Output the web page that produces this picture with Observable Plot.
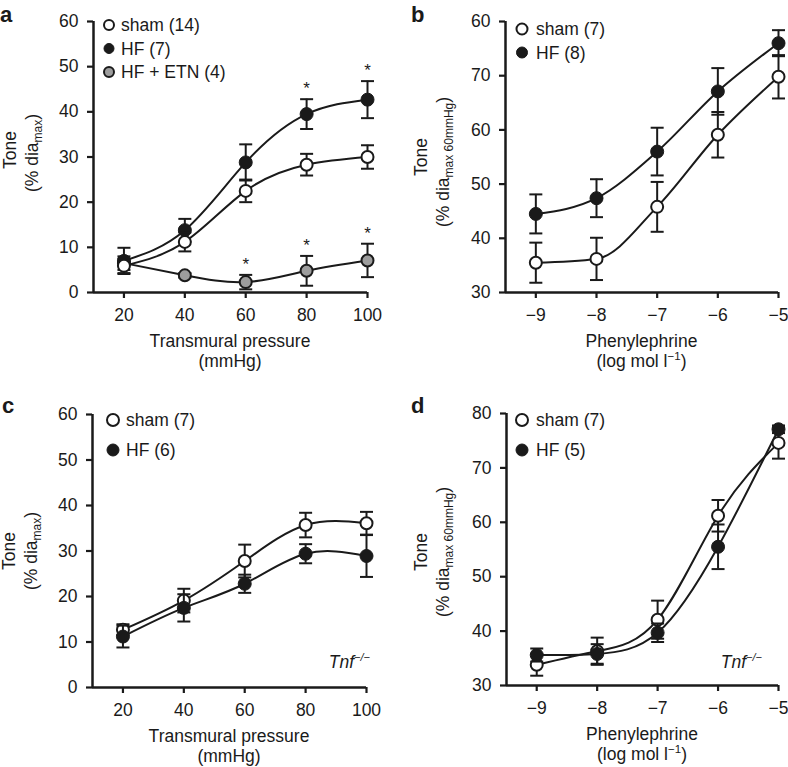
<!DOCTYPE html>
<html><head><meta charset="utf-8">
<script src="https://cdn.jsdelivr.net/npm/d3@7"></script>
<script src="https://cdn.jsdelivr.net/npm/@observablehq/plot@0.6"></script>
<style>
body{margin:0;background:#fff;}
#fig{position:relative;width:788px;height:767px;font-family:"Liberation Sans",Arial,Helvetica,sans-serif;color:#1a1a1a;}
.panel{position:absolute;}
.letter{position:absolute;font-weight:bold;font-size:22px;line-height:1;}
</style></head><body><div id="fig"></div>
<script>
// ---------- data ----------
const pressure = [20, 40, 60, 80, 100];
const logPE = [-9, -8, -7, -6, -5];

// panel a
const shamA = [5.9, 11.2, 22.5, 28.3, 30.0];
const shamAErr = [1.6, 2.1, 2.5, 2.4, 2.6];
const hfA = [7.0, 13.8, 28.8, 39.5, 42.7];
const hfAErr = [2.9, 2.5, 4.0, 3.3, 4.1];
const etnA = [6.5, 3.8, 2.3, 4.8, 7.1];
const etnAErr = [1.5, 0.5, 1.6, 3.3, 3.7];
const starsHFA = [80, 100];
const starsETNA = [60, 80, 100];

// panel b
const shamB = [35.5, 36.2, 45.8, 59.1, 69.8];
const shamBErr = [3.7, 3.9, 4.6, 4.2, 4.0];
const hfB = [44.5, 47.4, 56.0, 67.1, 76.0];
const hfBErr = [3.6, 3.5, 4.4, 4.3, 2.4];

// panel c
const shamC = [12.7, 19.1, 27.8, 35.7, 36.1];
const shamCErr = [1.2, 2.6, 3.6, 2.7, 2.5];
const hfC = [11.2, 17.5, 22.8, 29.4, 28.9];
const hfCErr = [2.4, 3.0, 2.0, 2.1, 4.6];

// panel d
const shamD = [33.8, 36.3, 42.1, 61.2, 74.6];
const shamDErr = [2.0, 2.5, 3.5, 2.9, 2.9];
const hfD = [35.6, 35.8, 39.7, 55.5, 77.1];
const hfDErr = [1.2, 1.8, 1.7, 4.1, 0.7];

// ticks
const pressureTicks = [20, 40, 60, 80, 100];
const pressureTickLabels = ["20", "40", "60", "80", "100"];
const peTicks = [-9, -8, -7, -6, -5];
const peTickLabels = ["\u22129", "\u22128", "\u22127", "\u22126", "\u22125"];
const toneTicks60 = [0, 10, 20, 30, 40, 50, 60];
const toneTickLabels60 = ["0", "10", "20", "30", "40", "50", "60"];
const toneTicks80 = [30, 40, 50, 60, 70, 80];
const toneTickLabelsB = ["30", "40", "50", "60", "70", "60"];
const toneTickLabelsD = ["30", "40", "50", "60", "70", "80"];

// legends
const legendA = ["sham (14)", "HF (7)", "HF + ETN (4)"];
const legendB = ["sham (7)", "HF (8)"];
const legendC = ["sham (7)", "HF (6)"];
const legendD = ["sham (7)", "HF (5)"];

// ---------- styles ----------
const INK = "#1a1a1a";
const FS = 17.5;
const FONT = "'Liberation Sans', Arial, Helvetica, sans-serif";
const openS = {fill: "#ffffff", stroke: INK, r: 6, sw: 2};
const filledS = {fill: INK, stroke: INK, r: 6.5, sw: 1};
const grayS = {fill: "#9d9d9d", stroke: INK, r: 6, sw: 2};
const capSymbol = {draw(ctx) { ctx.moveTo(-6.5, 0); ctx.lineTo(6.5, 0); }};

function rows(xs, means, errs) {
  return xs.map((x, i) => ({x, y: means[i], lo: means[i] - errs[i], hi: means[i] + errs[i]}));
}

function panel(cfg) {
  const fig = document.getElementById("fig");
  const div = document.createElement("div");
  div.className = "panel";
  div.style.left = cfg.left + "px";
  div.style.top = cfg.top + "px";
  fig.appendChild(div);

  const marks = [];
  marks.push(Plot.ruleX([cfg.xDomain[0]], {stroke: INK, strokeWidth: 2.5}));
  marks.push(Plot.ruleY([cfg.yDomain[0]], {stroke: INK, strokeWidth: 2.5}));
  marks.push(Plot.axisX({ticks: cfg.xTicks, tickFormat: d => cfg.xTickLabels[cfg.xTicks.indexOf(d)],
    tickSize: 6, tickPadding: 10, strokeWidth: 2.2, label: null, fill: INK, stroke: INK}));
  marks.push(Plot.axisY({ticks: cfg.yTicks, tickFormat: d => cfg.yTickLabels[cfg.yTicks.indexOf(d)],
    tickSize: 6, tickPadding: 9, strokeWidth: 2.2, label: null, fill: INK, stroke: INK}));
  const data = cfg.series.map(s => ({...s, rows: rows(cfg.xs, s.means, s.errs)}));
  for (const s of data) {
    marks.push(Plot.line(s.rows, {x: "x", y: "y", curve: cfg.curve, stroke: INK, strokeWidth: 2}));
  }
  for (const s of data) {
    marks.push(Plot.ruleX(s.rows, {x: "x", y1: "lo", y2: "hi", stroke: INK, strokeWidth: 2}));
    marks.push(Plot.dot(s.rows, {x: "x", y: "hi", symbol: capSymbol, fill: "none", stroke: INK, strokeWidth: 2}));
    marks.push(Plot.dot(s.rows, {x: "x", y: "lo", symbol: capSymbol, fill: "none", stroke: INK, strokeWidth: 2}));
    marks.push(Plot.dot(s.rows, {x: "x", y: "y", r: s.style.r, fill: s.style.fill, stroke: s.style.stroke, strokeWidth: s.style.sw}));
    if (s.stars) {
      const sr = s.rows.filter(d => s.stars.includes(d.x));
      marks.push(Plot.text(sr, {x: "x", y: "hi", text: () => "*", lineAnchor: "bottom", dy: -5, fontSize: 17, fill: INK}));
    }
  }

  const svg = Plot.plot({
    width: cfg.width, height: cfg.height,
    marginLeft: cfg.m[0], marginRight: cfg.m[1], marginTop: cfg.m[2], marginBottom: cfg.m[3],
    x: {domain: cfg.xDomain},
    y: {domain: cfg.yDomain},
    style: {fontSize: FS + "px", fontFamily: FONT, color: INK, background: "transparent", overflow: "visible"},
    marks
  });
  div.appendChild(svg);

  const g = d3.select(svg);
  const fx0 = cfg.m[0], fx1 = cfg.width - cfg.m[1];
  const fy1 = cfg.height - cfg.m[3];
  const cx = (fx0 + fx1) / 2;

  // x label
  const xl = g.append("text").attr("text-anchor", "middle").attr("fill", INK).attr("font-size", FS);
  xl.append("tspan").attr("x", cx).attr("y", fy1 + 54.5).text(cfg.xLabel1);
  const l2 = xl.append("tspan").attr("x", cx).attr("y", fy1 + 74.5);
  for (const p of cfg.xLabel2) {
    const t = l2.append("tspan").text(p.t);
    if (p.sup) t.attr("font-size", 11.5).attr("dy", -7);
    if (p.back) t.attr("dy", 7);
  }

  // y label
  g.append("text").attr("transform", `translate(${cfg.yl.x1},${cfg.yl.y1}) rotate(-90)`)
    .attr("text-anchor", "middle").attr("dy", "0.35em").attr("fill", INK).attr("font-size", FS).text("Tone");
  const y2 = g.append("text").attr("transform", `translate(${cfg.yl.x2},${cfg.yl.y2}) rotate(-90)`)
    .attr("text-anchor", "middle").attr("dy", "0.35em").attr("fill", INK).attr("font-size", FS);
  y2.append("tspan").text("(% dia");
  y2.append("tspan").attr("font-size", 12).attr("dy", 4).text(cfg.ySub);
  y2.append("tspan").attr("dy", -4).text(")");

  // legend
  cfg.legend.forEach((label, i) => {
    const st = cfg.legendStyles[i];
    const ly = cfg.lg.y0 + i * cfg.lg.dy;
    g.append("circle").attr("cx", cfg.lg.cx).attr("cy", ly).attr("r", cfg.lg.r)
      .attr("fill", st.fill).attr("stroke", st.stroke).attr("stroke-width", st.sw === 1 ? 1 : 2);
    g.append("text").attr("x", cfg.lg.tx).attr("y", ly).attr("dy", "0.35em").attr("fill", INK)
      .attr("text-anchor", "start").attr("font-size", FS).text(label);
  });

  // Tnf annotation
  if (cfg.tnf) {
    const t = g.append("text").attr("x", cfg.tnf.x).attr("y", cfg.tnf.y).attr("text-anchor", "end")
      .attr("fill", INK).attr("font-size", FS).attr("font-style", "italic");
    t.append("tspan").text("Tnf");
    t.append("tspan").attr("font-size", 11).attr("dy", -7).text("\u2212/\u2212");
  }

  // panel letter
  const L = document.createElement("div");
  L.className = "letter";
  L.style.left = (cfg.left + cfg.letter.x) + "px";
  L.style.top = (cfg.top + cfg.letter.y) + "px";
  L.textContent = cfg.letter.t;
  fig.appendChild(L);
}

panel({
  left: 0, top: 0, width: 394, height: 370, m: [93, 27, 21, 78], curve: "natural",
  xDomain: [10, 100], yDomain: [0, 60], xs: pressure,
  xTicks: pressureTicks, xTickLabels: pressureTickLabels,
  yTicks: toneTicks60, yTickLabels: toneTickLabels60,
  series: [
    {means: etnA, errs: etnAErr, style: grayS, stars: starsETNA},
    {means: hfA, errs: hfAErr, style: filledS, stars: starsHFA},
    {means: shamA, errs: shamAErr, style: openS}
  ],
  xLabel1: "Transmural pressure", xLabel2: [{t: "(mmHg)"}],
  yl: {x1: 10, y1: 150, x2: 31.5, y2: 153}, ySub: "max",
  legend: legendA, legendStyles: [openS, filledS, grayS],
  lg: {cx: 109, tx: 121, y0: 25, dy: 23.5, r: 5},
  letter: {t: "a", x: 0, y: 4}
});

panel({
  left: 394, top: 0, width: 394, height: 370, m: [111, 10, 21, 78], curve: "monotone-x",
  xDomain: [-9.5, -5], yDomain: [30, 80], xs: logPE,
  xTicks: peTicks, xTickLabels: peTickLabels,
  yTicks: toneTicks80, yTickLabels: toneTickLabelsB,
  series: [
    {means: shamB, errs: shamBErr, style: openS},
    {means: hfB, errs: hfBErr, style: filledS}
  ],
  xLabel1: "Phenylephrine", xLabel2: [{t: "(log mol l"}, {t: "\u22121", sup: true}, {t: ")", back: true}],
  yl: {x1: 27, y1: 157, x2: 48.5, y2: 162}, ySub: "max 60mmHg",
  legend: legendB, legendStyles: [openS, filledS],
  lg: {cx: 128, tx: 142, y0: 29, dy: 23.5, r: 5.5},
  letter: {t: "b", x: 17, y: 4}
});

panel({
  left: 0, top: 370, width: 394, height: 397, m: [92, 28, 44, 80], curve: "natural",
  xDomain: [10, 100], yDomain: [0, 60], xs: pressure,
  xTicks: pressureTicks, xTickLabels: pressureTickLabels,
  yTicks: toneTicks60, yTickLabels: toneTickLabels60,
  series: [
    {means: shamC, errs: shamCErr, style: openS},
    {means: hfC, errs: hfCErr, style: filledS}
  ],
  xLabel1: "Transmural pressure", xLabel2: [{t: "(mmHg)"}],
  yl: {x1: 9, y1: 181, x2: 30.5, y2: 181}, ySub: "max",
  legend: legendC, legendStyles: [openS, filledS],
  lg: {cx: 113, tx: 126, y0: 50, dy: 30, r: 6},
  tnf: {x: 370, y: 298},
  letter: {t: "c", x: 2, y: 25}
});

panel({
  left: 394, top: 370, width: 394, height: 397, m: [112, 10, 43, 82], curve: "natural",
  xDomain: [-9.5, -5], yDomain: [30, 80], xs: logPE,
  xTicks: peTicks, xTickLabels: peTickLabels,
  yTicks: toneTicks80, yTickLabels: toneTickLabelsD,
  series: [
    {means: shamD, errs: shamDErr, style: openS},
    {means: hfD, errs: hfDErr, style: filledS}
  ],
  xLabel1: "Phenylephrine", xLabel2: [{t: "(log mol l"}, {t: "\u22121", sup: true}, {t: ")", back: true}],
  yl: {x1: 27, y1: 182, x2: 48.5, y2: 182}, ySub: "max 60mmHg",
  legend: legendD, legendStyles: [openS, filledS],
  lg: {cx: 128, tx: 142, y0: 50, dy: 30, r: 6},
  tnf: {x: 368, y: 298},
  letter: {t: "d", x: 17, y: 25}
});
</script>
</body></html>
